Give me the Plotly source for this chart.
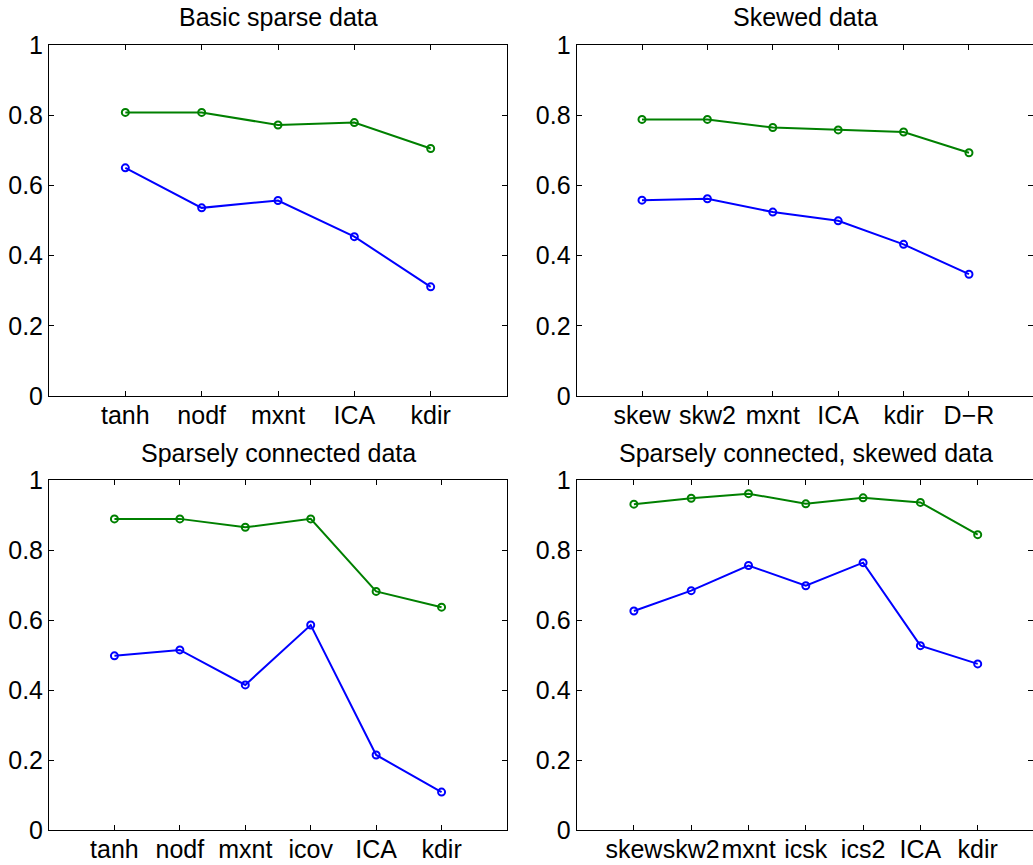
import plotly.graph_objects as go

# Method labels for each panel
methods_basic = ["tanh", "nodf", "mxnt", "ICA", "kdir"]
methods_skewed = ["skew", "skw2", "mxnt", "ICA", "kdir", "D\u2212R"]
methods_sparse = ["tanh", "nodf", "mxnt", "icov", "ICA", "kdir"]
methods_sparse_skewed = ["skew", "skw2", "mxnt", "icsk", "ics2", "ICA", "kdir"]

# Scores per panel: upper (green) and lower (blue) series
basic_green = [0.808, 0.808, 0.772, 0.779, 0.705]
basic_blue = [0.650, 0.536, 0.557, 0.454, 0.311]

skewed_green = [0.788, 0.788, 0.765, 0.758, 0.752, 0.693]
skewed_blue = [0.558, 0.562, 0.524, 0.499, 0.432, 0.347]

sparse_green = [0.889, 0.889, 0.865, 0.889, 0.682, 0.637]
sparse_blue = [0.498, 0.515, 0.415, 0.586, 0.215, 0.109]

sparse_skewed_green = [0.931, 0.948, 0.961, 0.932, 0.949, 0.936, 0.844]
sparse_skewed_blue = [0.626, 0.684, 0.756, 0.698, 0.764, 0.527, 0.475]

titles = ["Basic sparse data", "Skewed data",
          "Sparsely connected data", "Sparsely connected, skewed data"]

W, H = 1033, 865
FONT = "Liberation Sans, Arial, Helvetica, sans-serif"
GREEN = "rgb(0,128,0)"
BLUE = "rgb(0,0,255)"

# Pixel boxes for each axes: (left, right, top, bottom) and x-range max;
# the right-hand column runs off the page edge, so its range is cut short.
panels = [
    (methods_basic, basic_green, basic_blue, 49, 507, 45, 396, 6.0),
    (methods_skewed, skewed_green, skewed_blue, 576.6, 1033, 45, 396, 6.979),
    (methods_sparse, sparse_green, sparse_blue, 49, 507, 480, 830.3, 7.0),
    (methods_sparse_skewed, sparse_skewed_green, sparse_skewed_blue, 576.6, 1033, 480, 830.3, 7.965),
]

fig = go.Figure()
layout = dict(
    width=W, height=H,
    margin=dict(l=0, r=0, t=0, b=0, autoexpand=False),
    paper_bgcolor="white", plot_bgcolor="white",
    showlegend=False,
    font=dict(family=FONT, size=25, color="black"),
)

annotations = []
for i, (labels, g, b, x0, x1, y0, y1, xmax) in enumerate(panels):
    n = i + 1
    xa = "x" if n == 1 else f"x{n}"
    ya = "y" if n == 1 else f"y{n}"
    xs = list(range(1, len(labels) + 1))
    for vals, col in ((b, BLUE), (g, GREEN)):
        fig.add_trace(go.Scatter(
            x=xs, y=vals, xaxis=xa, yaxis=ya, mode="lines+markers",
            line=dict(color=col, width=2),
            marker=dict(symbol="circle-open", size=7, color=col,
                        line=dict(color=col, width=2)),
            hoverinfo="skip", cliponaxis=False,
        ))
    axis_common = dict(
        showline=True, linecolor="black", linewidth=1, mirror="allticks",
        ticks="inside", ticklen=5, tickcolor="black", tickwidth=1,
        showgrid=False, zeroline=False, fixedrange=True, automargin=False,
        tickangle=0,
        tickfont=dict(family=FONT, size=25, color="black"),
    )
    layout["xaxis" if n == 1 else f"xaxis{n}"] = dict(
        axis_common, domain=[x0 / W, min(x1 / W, 1.0)], range=[0, xmax],
        tickvals=xs, ticktext=labels, anchor=ya, ticklabelstandoff=-3,
    )
    layout["yaxis" if n == 1 else f"yaxis{n}"] = dict(
        axis_common, domain=[1 - y1 / H, 1 - y0 / H], range=[0, 1],
        tickvals=[0, 0.2, 0.4, 0.6, 0.8, 1.0],
        ticktext=["0", "0.2", "0.4", "0.6", "0.8", "1"], anchor=xa,
    )
    # title centred over the full (unclipped) axes box
    full_right = x0 + (x1 - x0) * (round(xmax) / xmax)
    annotations.append(dict(
        text=titles[i], xref="paper", yref="paper",
        x=((x0 + full_right) / 2) / W, y=1 - (y0 - 27.5) / H,
        xanchor="center", yanchor="middle", showarrow=False,
        font=dict(family=FONT, size=25, color="black"),
    ))

layout["annotations"] = annotations
fig.update_layout(**layout)
fig.write_html("out.html", config={"displayModeBar": False})
